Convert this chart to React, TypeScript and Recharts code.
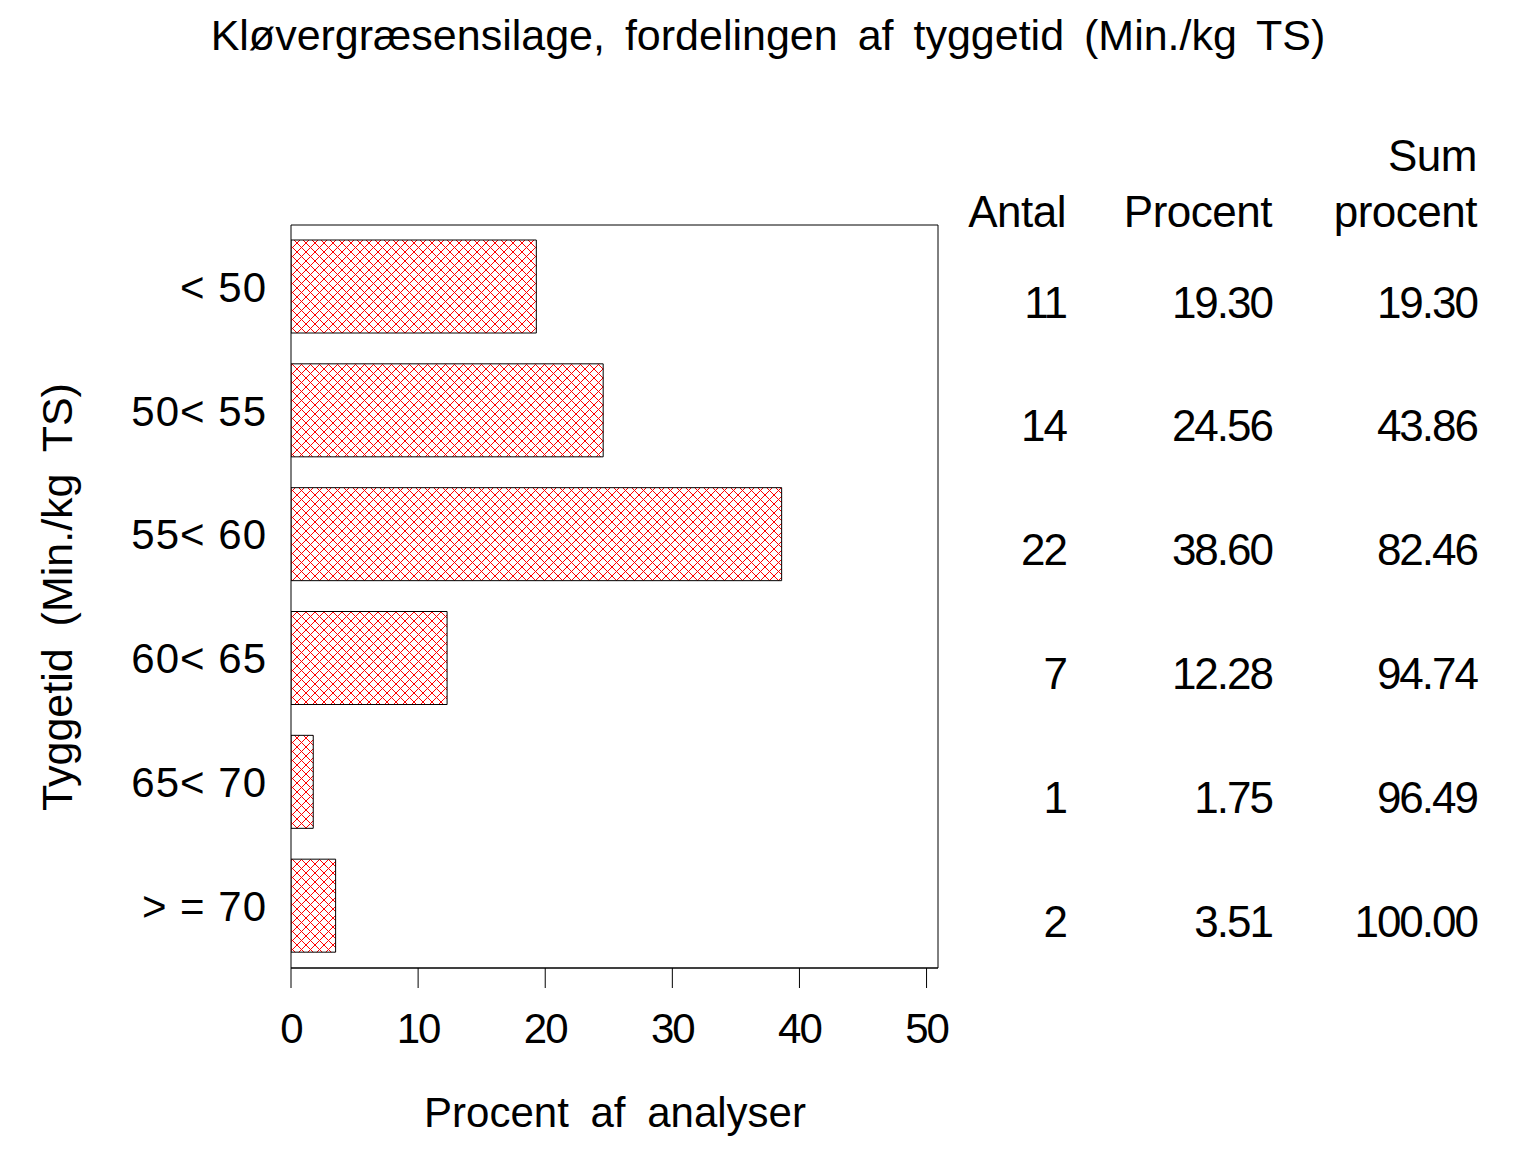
import { BarChart, Bar, XAxis, YAxis, ReferenceArea, LabelList, Label } from "recharts";

const categories = ["< 50", "50< 55", "55< 60", "60< 65", "65< 70", "> = 70"];
const antal = [11, 14, 22, 7, 1, 2];
const procent = [19.3, 24.56, 38.6, 12.28, 1.75, 3.51];
const sumProcent = [19.3, 43.86, 82.46, 94.74, 96.49, 100.0];
const xTicks = [0, 10, 20, 30, 40, 50];

const FONT = "'Liberation Sans', Arial, sans-serif";
const TXT = { fontFamily: FONT, fontSize: 42, letterSpacing: -2, fill: "#000" };
const HEAD = { ...TXT, fontSize: 44, letterSpacing: -0.5 };

const data = categories.map((c, i) => ({
  kategori: c,
  antal: antal[i],
  procent: procent[i],
  sum: sumProcent[i],
}));

function TableRow(props: any) {
  const { y, height, index } = props;
  const base = y + height / 2 + 31;
  const row = data[index];
  return (
    <g>
      <text x={1066} y={base} textAnchor="end" {...TXT} fontSize={44}>
        {row.antal}
      </text>
      <text x={1272} y={base} textAnchor="end" {...TXT} fontSize={44}>
        {row.procent.toFixed(2)}
      </text>
      <text x={1477} y={base} textAnchor="end" {...TXT} fontSize={44}>
        {row.sum.toFixed(2)}
      </text>
    </g>
  );
}

export default function App() {
  return (
    <div style={{ position: "absolute", left: 0, top: 0, width: 1536, height: 1152, background: "#fff" }}>
      <div
        style={{
          position: "absolute",
          top: 11,
          left: 0,
          width: 1536,
          textAlign: "center",
          fontFamily: FONT,
          fontSize: 43,
          letterSpacing: 0,
          wordSpacing: 8,
        }}
      >
        Kløvergræsensilage, fordelingen af tyggetid (Min./kg TS)
      </div>
      <svg style={{ position: "absolute", left: 0, top: 0 }} width={1536} height={240}>
        <text x={1477} y={171} textAnchor="end" {...HEAD}>Sum</text>
        <text x={1066} y={227} textAnchor="end" {...HEAD}>Antal</text>
        <text x={1272} y={227} textAnchor="end" {...HEAD}>Procent</text>
        <text x={1477} y={227} textAnchor="end" {...HEAD}>procent</text>
      </svg>
      <BarChart
        width={1536}
        height={1152}
        data={data}
        layout="vertical"
        margin={{ top: 225, right: 598, bottom: 0, left: 0 }}
        barSize={93}
        style={{ position: "absolute", left: 0, top: 0 }}
      >
        <defs>
          <pattern id="hatch" width="9" height="9" patternUnits="userSpaceOnUse">
            <path d="M0,0 L9,9 M9,0 L0,9" stroke="#ff0000" strokeWidth={1} />
          </pattern>
        </defs>
        <XAxis
          type="number"
          domain={[0, 50.9]}
          ticks={xTicks}
          allowDataOverflow
          height={184}
          tickSize={20}
          tickMargin={25}
          stroke="#000"
          tick={{ ...TXT }}
        >
          <Label
            content={() => (
              <text x={615} y={1127} textAnchor="middle" {...TXT} letterSpacing={0} wordSpacing={10}>
                Procent af analyser
              </text>
            )}
          />
        </XAxis>
        <YAxis
          type="category"
          dataKey="kategori"
          width={291}
          tickLine={false}
          tickMargin={18}
          axisLine={false}
          tick={{ ...TXT, letterSpacing: 1 }}
        >
          <Label
            content={() => (
              <text
                x={0}
                y={0}
                textAnchor="middle"
                transform="translate(72,597) rotate(-90)"
                {...TXT}
                fontSize={43}
                letterSpacing={0}
                wordSpacing={10}
              >
                Tyggetid (Min./kg TS)
              </text>
            )}
          />
        </YAxis>
        <ReferenceArea x1={0} x2={50.9} fill="none" stroke="#000" strokeWidth={1} fillOpacity={0} />
        <Bar dataKey="procent" fill="url(#hatch)" stroke="#000" strokeWidth={1} isAnimationActive={false}>
          <LabelList dataKey="procent" content={TableRow} />
        </Bar>
      </BarChart>
    </div>
  );
}
